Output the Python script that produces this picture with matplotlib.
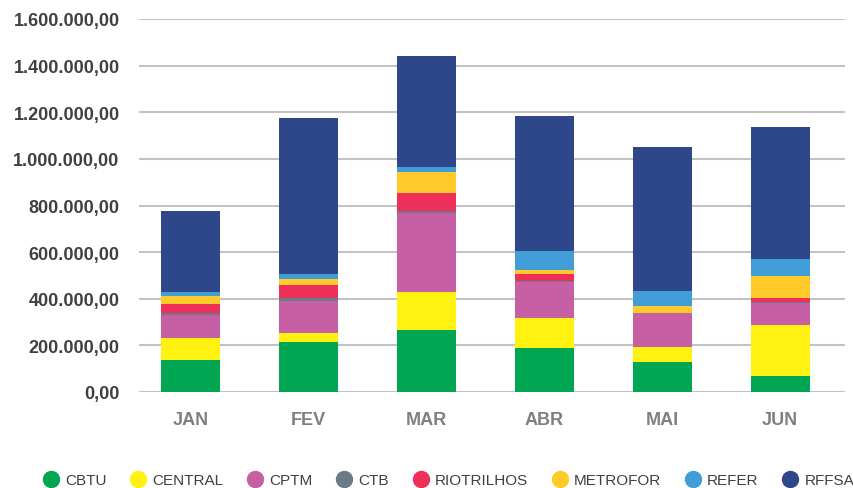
import matplotlib
matplotlib.use("AGG")
import matplotlib.pyplot as plt
import matplotlib.ticker as ticker
from matplotlib.lines import Line2D

months = ["JAN", "FEV", "MAR", "ABR", "MAI", "JUN"]
operators = ["CBTU", "CENTRAL", "CPTM", "CTB", "RIOTRILHOS", "METROFOR", "REFER", "RFFSA"]
colors = ["#00A651", "#FFF110", "#C65FA3", "#6B7A86", "#EE2F5A", "#FFCA2A", "#409DD8", "#2E468A"]

# values per operator, one per month
cbtu = [137000, 214000, 266000, 189000, 129000, 69000]
central = [95000, 39000, 163000, 128000, 64000, 218000]
cptm = [100000, 139000, 339000, 155000, 146000, 95000]
ctb = [8000, 10000, 10000, 2000, 0, 5000]
riotrilhos = [38000, 57000, 76000, 32000, 0, 16000]
metrofor = [34000, 26000, 90000, 17000, 30000, 95000]
refer = [17000, 21000, 21000, 82000, 64000, 73000]
rffsa = [347000, 669000, 476000, 579000, 618000, 566000]

series = [cbtu, central, cptm, ctb, riotrilhos, metrofor, refer, rffsa]

plt.rcParams["font.family"] = ["Liberation Sans", "DejaVu Sans"]

fig = plt.figure(figsize=(8.54, 4.89), dpi=100)
ax = fig.add_axes([139 / 854, 1 - 393 / 489, (845 - 139) / 854, (393 - 20) / 489])

x = list(range(len(months)))
bottom = [0] * len(months)
for name, vals, c in zip(operators, series, colors):
    ax.bar(x, vals, width=0.5, bottom=bottom, color=c, label=name, zorder=3)
    bottom = [b + v for b, v in zip(bottom, vals)]

ax.set_ylim(0, 1600000)
ax.set_xlim(-0.44, 5.55)
ax.set_yticks(range(0, 1600001, 200000))


def fmt(v, pos):
    s = "{:,.2f}".format(v)
    return s.replace(",", "X").replace(".", ",").replace("X", ".")


ax.yaxis.set_major_formatter(ticker.FuncFormatter(fmt))
ax.set_xticks(x)
ax.set_xticklabels(months)

ax.grid(axis="y", color="#C3C3C5", linewidth=1.5, zorder=0)
for s in ax.spines.values():
    s.set_visible(False)
ax.tick_params(axis="y", length=0, pad=14, labelsize=13, labelcolor="#404040")
ax.tick_params(axis="x", length=0, pad=14, labelsize=13, labelcolor="#7F7F7F")
for lbl in ax.get_yticklabels() + ax.get_xticklabels():
    lbl.set_fontweight("bold")

handles = [Line2D([], [], marker="o", linestyle="none", markersize=11.5,
                  markerfacecolor=c, markeredgecolor=c) for c in colors]
fig.legend(handles, operators, loc="center left", bbox_to_anchor=(34 / 854, 1 - 481 / 489),
           ncol=8, frameon=False, fontsize=11, labelcolor="#404040", borderpad=0,
           handlelength=1.2, handletextpad=0.35, columnspacing=1.45)

plt.savefig("out.png")
